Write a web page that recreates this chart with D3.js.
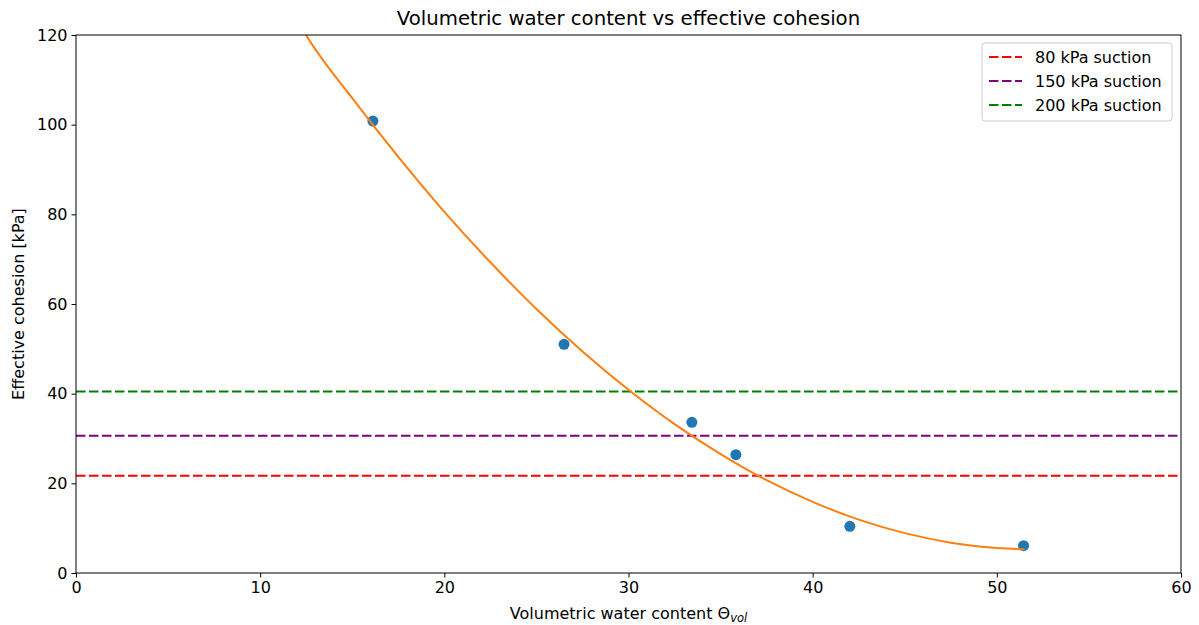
<!DOCTYPE html>
<html><head><meta charset="utf-8">
<script src="https://cdn.jsdelivr.net/npm/d3@7"></script>
<style>body{margin:0;background:#fff;} text{font-family:"DejaVu Sans",sans-serif;}</style>
</head><body>
<svg id="c" width="1199" height="625"></svg>
<script>
const pointX = [16.12, 26.5, 33.44, 35.83, 42.02, 51.45];
const pointY = [100.8, 51.0, 33.6, 26.4, 10.4, 6.1];
const curveX = [10, 12.5, 15, 17.5, 20, 22.5, 25, 27.5, 30, 32.5, 35, 37.5, 40, 42.5, 45, 47.5, 50, 51.5];
const curveY = [141.5, 119.95, 105.9, 92.8, 80.55, 69.3, 58.87, 49.4, 40.86, 33.2, 26.53, 20.7, 15.87, 11.9, 8.89, 6.77, 5.58, 5.3];
const suctionLabels = ["80 kPa suction", "150 kPa suction", "200 kPa suction"];
const suctionValues = [21.7, 30.6, 40.5];
const suctionColors = ["red", "purple", "green"];
const xTicks = [0, 10, 20, 30, 40, 50, 60];
const yTicks = [0, 20, 40, 60, 80, 100, 120];

const svg = d3.select("#c");
const m = {l: 76, r: 1181, t: 35, b: 573};
const x = d3.scaleLinear().domain([0, 60]).range([m.l, m.r]);
const y = d3.scaleLinear().domain([0, 120]).range([m.b, m.t]);
const FS = 16;
const DASH = "9.5,3.5";

svg.append("defs").append("clipPath").attr("id", "clip")
  .append("rect").attr("x", m.l).attr("y", m.t).attr("width", m.r - m.l).attr("height", m.b - m.t);

const g = svg.append("g").attr("clip-path", "url(#clip)");

suctionValues.forEach((v, i) => {
  g.append("line").attr("x1", m.l).attr("x2", m.r).attr("y1", y(v)).attr("y2", y(v))
    .attr("stroke", suctionColors[i]).attr("stroke-width", 2).attr("stroke-dasharray", DASH);
});

g.selectAll("circle").data(pointX).enter().append("circle")
  .attr("cx", d => x(d)).attr("cy", (d, i) => y(pointY[i])).attr("r", 5.5).attr("fill", "#1f77b4");

g.append("path").datum(curveX.map((d, i) => [d, curveY[i]]))
  .attr("d", d3.line().x(d => x(d[0])).y(d => y(d[1])).curve(d3.curveCatmullRom))
  .attr("fill", "none").attr("stroke", "#ff7f0e").attr("stroke-width", 2);

const xa = svg.append("g").attr("transform", `translate(0,${m.b})`)
  .call(d3.axisBottom(x).tickValues(xTicks).tickSize(4.5).tickPadding(4));
const ya = svg.append("g").attr("transform", `translate(${m.l},0)`)
  .call(d3.axisLeft(y).tickValues(yTicks).tickSize(4.5).tickPadding(4));
[xa, ya].forEach(a => {
  a.selectAll("text").attr("font-size", FS).attr("fill", "#000").attr("font-family", "DejaVu Sans");
  a.selectAll("line").attr("stroke", "#000").attr("stroke-width", 1);
  a.select(".domain").remove();
});
svg.append("rect").attr("x", m.l).attr("y", m.t).attr("width", m.r - m.l).attr("height", m.b - m.t)
  .attr("fill", "none").attr("stroke", "#000").attr("stroke-width", 1);

svg.append("text").attr("x", (m.l + m.r) / 2).attr("y", 25).attr("text-anchor", "middle")
  .attr("font-size", 19.7).text("Volumetric water content vs effective cohesion");
const xl = svg.append("text").attr("x", (m.l + m.r) / 2).attr("y", 619).attr("text-anchor", "middle")
  .attr("font-size", FS);
xl.append("tspan").text("Volumetric water content Θ");
xl.append("tspan").attr("font-style", "italic").attr("font-size", 11.5).attr("dy", 3).text("vol");
svg.append("text").attr("transform", `translate(24,${(m.t + m.b) / 2}) rotate(-90)`)
  .attr("text-anchor", "middle").attr("font-size", FS).text("Effective cohesion [kPa]");

const lg = svg.append("g");
lg.append("rect").attr("x", 982).attr("y", 43).attr("width", 190).attr("height", 78).attr("rx", 3)
  .attr("fill", "#fff").attr("fill-opacity", 0.8).attr("stroke", "#ccc");
suctionLabels.forEach((s, i) => {
  const yy = 57 + i * 24;
  lg.append("line").attr("x1", 989).attr("x2", 1022).attr("y1", yy).attr("y2", yy)
    .attr("stroke", suctionColors[i]).attr("stroke-width", 2).attr("stroke-dasharray", DASH);
  lg.append("text").attr("x", 1035).attr("y", yy + 6).attr("font-size", FS).text(s);
});
</script>
</body></html>
